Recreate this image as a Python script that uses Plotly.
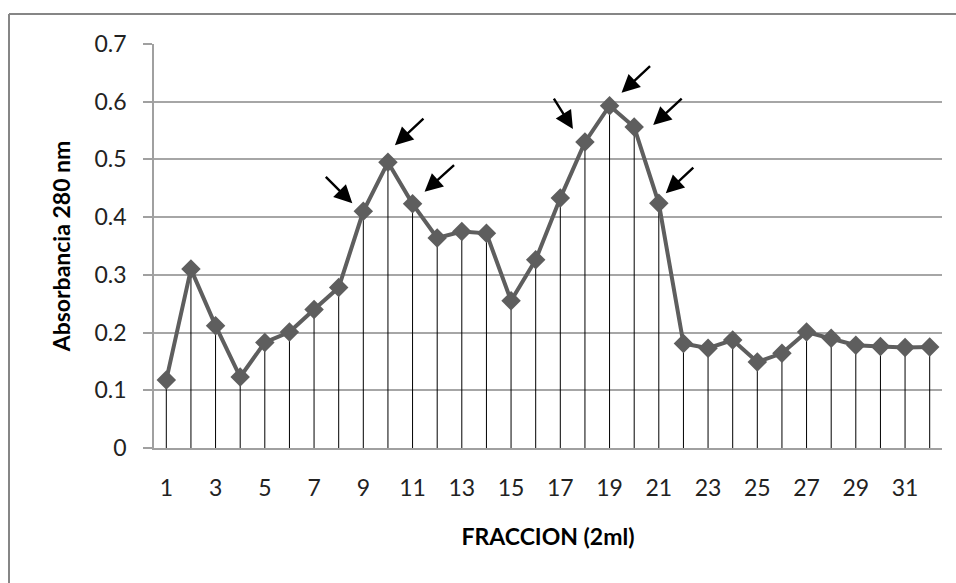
import plotly.graph_objects as go

fraccion = list(range(1, 33))
absorbancia = [0.118, 0.310, 0.212, 0.123, 0.183, 0.201, 0.240, 0.278,
               0.410, 0.495, 0.423, 0.364, 0.375, 0.372, 0.255, 0.326,
               0.433, 0.530, 0.593, 0.556, 0.424, 0.181, 0.173, 0.187,
               0.149, 0.164, 0.201, 0.190, 0.178, 0.176, 0.174, 0.175]
x_ticks = list(range(1, 33, 2))
y_ticks = [0, 0.1, 0.2, 0.3, 0.4, 0.5, 0.6, 0.7]
arrow_fracciones = [9, 10, 11, 18, 19, 20, 21]

# arrow geometry (pixel offsets of head from point, tail from head)
arrow_style = {
    9: (-11, 8, -28, -28),
    10: (7, 17, 30, -28),
    11: (12, 12, 31, -28),
    18: (-12, 13, -20, -32),
    19: (12, 13, 30, -28),
    20: (19, 2, 30, -28),
    21: (7, 10, 29, -27),
}

W, H = 956, 583
L, R, T, B = 154, 14, 44, 135
pw, ph = W - L - R, H - T - B

fig = go.Figure()

# drop lines
dx, dy = [], []
for f, v in zip(fraccion, absorbancia):
    dx += [f, f, None]
    dy += [0, v, None]
fig.add_trace(go.Scatter(x=dx, y=dy, mode="lines",
                         line=dict(color="black", width=1),
                         hoverinfo="skip", showlegend=False))

fig.add_trace(go.Scatter(x=fraccion, y=absorbancia, mode="lines+markers",
                         line=dict(color="#5e5e5e", width=4),
                         marker=dict(symbol="diamond", size=15, color="#5e5e5e"),
                         showlegend=False))

for f in arrow_fracciones:
    v = absorbancia[f - 1]
    xs, ys, ax, ay = arrow_style[f]
    fig.add_annotation(x=f, y=v, xshift=xs, yshift=ys, ax=ax, ay=ay,
                       text="", showarrow=True, arrowhead=2, arrowsize=1.5,
                       arrowwidth=2.4, arrowcolor="black")

# outer chart border (left and top edges; the rest lies outside the view)
x0 = (9 - L) / pw
y1 = (H - B - 14) / ph
border = dict(color="#868686", width=2)
fig.add_shape(type="line", xref="paper", yref="paper",
              x0=x0, x1=x0, y0=-1, y1=y1, line=border, layer="below")
fig.add_shape(type="line", xref="paper", yref="paper",
              x0=x0, x1=1.2, y0=y1, y1=y1, line=border, layer="below")

FS = 23
font = dict(family="Lato, 'Open Sans', sans-serif", size=FS, color="#222222")

fig.update_layout(
    width=W, height=H,
    margin=dict(l=L, r=R, t=T, b=B),
    paper_bgcolor="white", plot_bgcolor="white",
    font=font,
    xaxis=dict(range=[0.5, 32.5], tickvals=x_ticks, ticktext=[str(t) for t in x_ticks],
               tickfont=dict(size=FS, color="#222222"),
               showgrid=False, showline=True, linecolor="#a0a0a0", linewidth=2,
               ticks="", ticklabelstandoff=18, zeroline=False,
               title=dict(text="<b>FRACCION (2ml)</b>", standoff=29,
                          font=dict(size=FS, color="black"))),
    yaxis=dict(range=[0, 0.7], tickvals=y_ticks, ticktext=[str(t) if t else "0" for t in y_ticks],
               tickfont=dict(size=FS, color="#222222"),
               showgrid=True, gridcolor="#a6a6a6", gridwidth=1.5,
               showline=True, linecolor="#a0a0a0", linewidth=1.5,
               ticks="outside", ticklen=9, tickcolor="#a0a0a0", tickwidth=1.5,
               ticklabelstandoff=12, zeroline=False,
               title=dict(text="<b>Absorbancia 280 nm</b>", standoff=17,
                          font=dict(size=FS, color="black"))),
)

fig.write_html(
    "out.html",
    config={"displayModeBar": False},
    post_script="document.body.style.margin='0';"
                "document.documentElement.style.overflow='hidden';"
                "document.body.style.overflow='hidden';",
)
